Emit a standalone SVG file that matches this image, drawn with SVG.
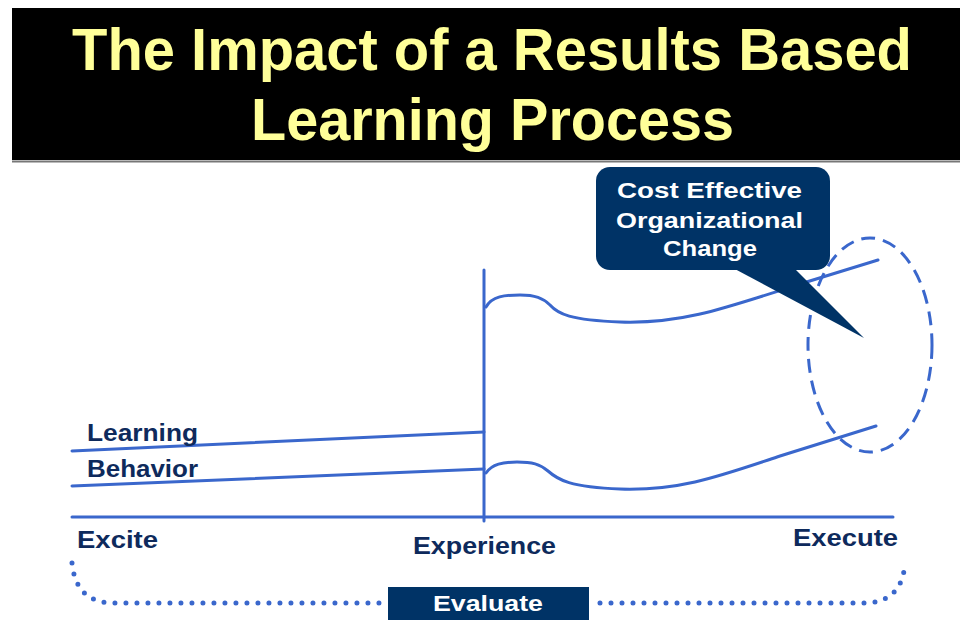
<svg xmlns="http://www.w3.org/2000/svg" width="960" height="620" viewBox="0 0 960 620">
<style>
.ln{fill:none;stroke:#3A67CC;stroke-width:3;stroke-linecap:round;stroke-linejoin:round}
.title{font-family:"Liberation Sans",Arial,sans-serif;font-weight:bold;font-size:59px;fill:#FFFF99}
.lbl{font-family:"Liberation Sans",Arial,sans-serif;font-weight:bold;font-size:23px;fill:#0E2A5C}
.wt{font-family:"Liberation Sans",Arial,sans-serif;font-weight:bold;font-size:22px;fill:#FFFFFF}
.dots{fill:none;stroke:#3A67CC;stroke-width:5;stroke-linecap:round;stroke-dasharray:0 11}
.navy{fill:#003366}
</style>
<rect width="960" height="620" fill="#FFFFFF"/>
<g id="title">
<rect x="12" y="8" width="948" height="152" fill="#000000"/>
<line x1="12" y1="161.5" x2="960" y2="161.5" stroke="#777777" stroke-width="2"/>
<text class="title" x="72" y="70" textLength="840" lengthAdjust="spacingAndGlyphs">The Impact of a Results Based</text>
<text class="title" x="251" y="140" textLength="483" lengthAdjust="spacingAndGlyphs">Learning Process</text>
</g>
<g id="connectors">
<line class="ln" x1="72" y1="517" x2="893" y2="517"/>
<line class="ln" x1="484" y1="270" x2="484" y2="521"/>
<line class="ln" x1="72" y1="451" x2="484" y2="432"/>
<line class="ln" x1="72" y1="486" x2="484" y2="469"/>
<path class="ln" d="M486,307 C492,296 505,295 520,295 C535,295 543,298 550,305 C558,314 570,320 620,322 C680,324 720,310 800,284 L878,260"/>
<path class="ln" d="M486,473 C492,464 503,462 517,462 C532,462 540,464 548,471 C558,480 570,487 620,489 C680,491 720,476 780,456 L876,426"/>
<ellipse cx="870" cy="345" rx="62" ry="107" fill="none" stroke="#3A67CC" stroke-width="3" stroke-dasharray="14 8"/>
<path class="dots" d="M72,563 Q76,602 112,603 L383,603"/>
<path class="dots" d="M600,603 L868,603 Q903,600 905,562"/>
</g>
<g id="callout">
<path class="navy" d="M733,268 L864,338 L794,268 Z"/>
<rect class="navy" x="596" y="167" width="234" height="103" rx="14" ry="14"/>
<text class="wt" x="617" y="198" textLength="185" lengthAdjust="spacingAndGlyphs">Cost Effective</text>
<text class="wt" x="616" y="228" textLength="187" lengthAdjust="spacingAndGlyphs">Organizational</text>
<text class="wt" x="663" y="256" textLength="94" lengthAdjust="spacingAndGlyphs">Change</text>
</g>
<g id="label-learning"><text class="lbl" x="87" y="441" textLength="111" lengthAdjust="spacingAndGlyphs">Learning</text></g>
<g id="label-behavior"><text class="lbl" x="87" y="477" textLength="111" lengthAdjust="spacingAndGlyphs">Behavior</text></g>
<g id="label-excite"><text class="lbl" x="77" y="548" textLength="81" lengthAdjust="spacingAndGlyphs">Excite</text></g>
<g id="label-experience"><text class="lbl" x="413" y="554" textLength="143" lengthAdjust="spacingAndGlyphs">Experience</text></g>
<g id="label-execute"><text class="lbl" x="793" y="546" textLength="105" lengthAdjust="spacingAndGlyphs">Execute</text></g>
<g id="evaluate">
<rect class="navy" x="388" y="587" width="201" height="33"/>
<text class="wt" x="433" y="611" font-size="23" textLength="110" lengthAdjust="spacingAndGlyphs">Evaluate</text>
</g>
</svg>
